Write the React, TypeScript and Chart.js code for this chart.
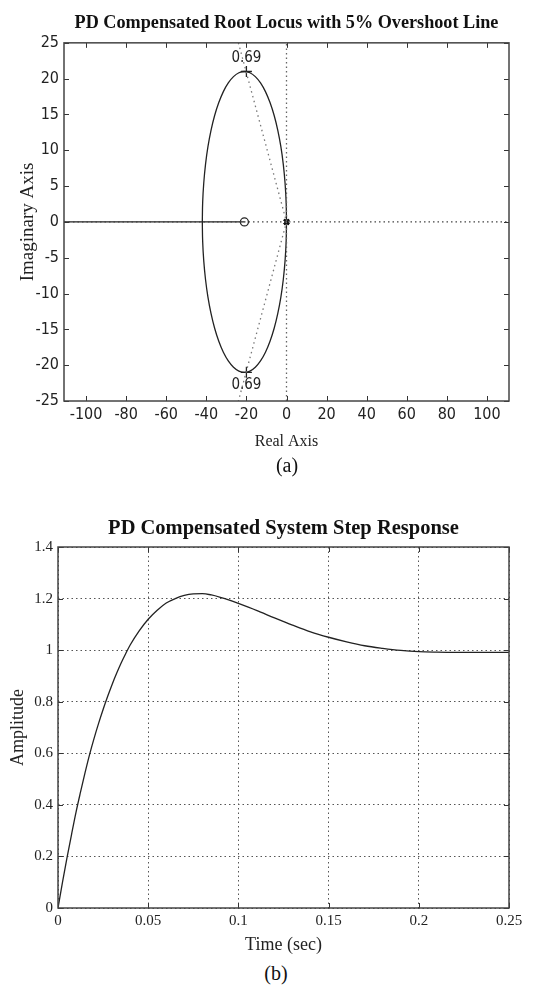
import React, { useEffect, useRef } from "react";
import { Chart, registerables } from "chart.js";

Chart.register(...registerables);

// ---------------- (a) Root locus data ----------------
const locusUpperX = [0, -0.18, -0.72, -1.6, -2.81, -4.34, -6.15, -8.22, -10.5, -12.96, -15.56, -18.26, -21, -23.74, -26.44, -29.04, -31.5, -33.78, -35.85, -37.66, -39.19, -40.4, -41.28, -41.82, -42];
const locusUpperY = [0, 2.74, 5.44, 8.04, 10.5, 12.78, 14.85, 16.66, 18.19, 19.4, 20.28, 20.82, 21, 20.82, 20.28, 19.4, 18.19, 16.66, 14.85, 12.78, 10.5, 8.04, 5.44, 2.74, 0];
const locusLowerX = [0, -0.18, -0.72, -1.6, -2.81, -4.34, -6.15, -8.22, -10.5, -12.96, -15.56, -18.26, -21, -23.74, -26.44, -29.04, -31.5, -33.78, -35.85, -37.66, -39.19, -40.4, -41.28, -41.82, -42];
const locusLowerY = [0, -2.74, -5.44, -8.04, -10.5, -12.78, -14.85, -16.66, -18.19, -19.4, -20.28, -20.82, -21, -20.82, -20.28, -19.4, -18.19, -16.66, -14.85, -12.78, -10.5, -8.04, -5.44, -2.74, 0];
const realLocusX = [-111, -21];
const realLocusY = [0, 0];
const zeroX = [-21];
const zeroY = [0];
const poleX = [0, 0];
const poleY = [0, 0];
const dampLineX = [-24, 0, -24];
const dampLineY = [25, 0, -25];
const dampPointX = [-20, -20];
const dampPointY = [21, -21];
const dampLabelText = ["0.69", "0.69"];
const dampLabelX = [-20, -20];
const dampLabelY = [22.8, -22.8];
const axisVertX = [0, 0];
const axisVertY = [-25, 25];
const axisHorzX = [-111, 111];
const axisHorzY = [0, 0];
const rlXRange = [-111, 111];
const rlYRange = [-25, 25];
const rlXTicks = [-100, -80, -60, -40, -20, 0, 20, 40, 60, 80, 100];
const rlYTicks = [-25, -20, -15, -10, -5, 0, 5, 10, 15, 20, 25];

// ---------------- (b) Step response data ----------------
const stepTime = [0, 0.0025, 0.005, 0.0075, 0.01, 0.0125, 0.015, 0.0175, 0.02, 0.0225, 0.025, 0.0275, 0.03, 0.0325, 0.035, 0.0375, 0.04, 0.045, 0.05, 0.055, 0.06, 0.065, 0.07, 0.075, 0.08, 0.085, 0.09, 0.095, 0.1, 0.11, 0.12, 0.13, 0.14, 0.15, 0.16, 0.17, 0.18, 0.19, 0.2, 0.21, 0.22, 0.23, 0.24, 0.25];
const stepAmp = [0, 0.1, 0.195, 0.285, 0.372, 0.45, 0.525, 0.595, 0.658, 0.716, 0.77, 0.82, 0.867, 0.91, 0.95, 0.986, 1.02, 1.075, 1.12, 1.155, 1.183, 1.2, 1.212, 1.218, 1.219, 1.214, 1.205, 1.194, 1.181, 1.154, 1.125, 1.097, 1.071, 1.05, 1.032, 1.017, 1.007, 0.999, 0.994, 0.992, 0.991, 0.991, 0.991, 0.991];
const stepXTicks = [0, 0.05, 0.1, 0.15, 0.2, 0.25];
const stepYTicks = [0, 0.2, 0.4, 0.6, 0.8, 1, 1.2, 1.4];
const stepXRange = [0, 0.25];
const stepYRange = [0, 1.4];

const INK = "#222";
const SERIF = "'Liberation Serif', 'Times New Roman', serif";
const NARROW = "'Liberation Sans Narrow', 'Arial Narrow', 'DejaVu Sans Condensed', 'Liberation Sans', sans-serif";

const pts = (xs: number[], ys: number[]) => xs.map((x, i) => ({ x, y: ys[i] }));

function framePlugin(labels: { text: string; x: number; y: number }[], labelFont: string) {
  return {
    id: "matlabFrame",
    afterDatasetsDraw(chart: any) {
      const { ctx, chartArea: a, scales } = chart;
      const tl = 5;
      ctx.save();
      ctx.strokeStyle = "#333";
      ctx.lineWidth = 1;
      ctx.beginPath();
      scales.x.ticks.forEach((t: any) => {
        const px = Math.round(scales.x.getPixelForValue(t.value)) + 0.5;
        ctx.moveTo(px, a.bottom);
        ctx.lineTo(px, a.bottom - tl);
        ctx.moveTo(px, a.top);
        ctx.lineTo(px, a.top + tl);
      });
      scales.y.ticks.forEach((t: any) => {
        const py = Math.round(scales.y.getPixelForValue(t.value)) + 0.5;
        ctx.moveTo(a.left, py);
        ctx.lineTo(a.left + tl, py);
        ctx.moveTo(a.right, py);
        ctx.lineTo(a.right - tl, py);
      });
      ctx.stroke();
      ctx.strokeStyle = "#444";
      ctx.lineWidth = 1.5;
      ctx.strokeRect(a.left, a.top, a.right - a.left, a.bottom - a.top);
      ctx.fillStyle = INK;
      ctx.font = labelFont;
      ctx.textAlign = "center";
      ctx.textBaseline = "middle";
      labels.forEach((l) => {
        ctx.fillText(l.text, scales.x.getPixelForValue(l.x), scales.y.getPixelForValue(l.y));
      });
      ctx.restore();
    },
  };
}

function RootLocus() {
  const ref = useRef<HTMLCanvasElement>(null);
  useEffect(() => {
    const line = (xs: number[], ys: number[], dash: number[] = [], color = INK, tension = 0.4) => ({
      data: pts(xs, ys),
      showLine: true,
      borderColor: color,
      borderWidth: 1.3,
      borderDash: dash,
      pointRadius: 0,
      tension,
      fill: false,
    });
    const labels = dampLabelText.map((text, i) => ({ text, x: dampLabelX[i], y: dampLabelY[i] }));
    const chart = new Chart(ref.current!, {
      type: "scatter",
      data: {
        datasets: [
          line(axisVertX, axisVertY, [1.5, 3], "#666", 0) as any,
          line(axisHorzX, axisHorzY, [1.5, 3], "#444", 0),
          line(dampLineX, dampLineY, [1.5, 3.5], "#777", 0),
          line(locusUpperX, locusUpperY),
          line(locusLowerX, locusLowerY),
          line(realLocusX, realLocusY, [], INK, 0),
          {
            data: pts(zeroX, zeroY),
            showLine: false,
            pointStyle: "circle",
            pointRadius: 4,
            pointBorderWidth: 1.3,
            pointBorderColor: INK,
            pointBackgroundColor: "rgba(255,255,255,1)",
          },
          {
            data: pts(poleX, poleY),
            showLine: false,
            pointStyle: "crossRot",
            pointRadius: 3.5,
            pointBorderWidth: 2.2,
            pointBorderColor: "#111",
          },
          {
            data: pts(dampPointX, dampPointY),
            showLine: false,
            pointStyle: "cross",
            pointRadius: 5.5,
            pointBorderWidth: 1.3,
            pointBorderColor: INK,
          },
        ],
      },
      options: {
        responsive: false,
        animation: false,
        events: [],
        layout: { padding: { left: 0, right: 35, top: 0, bottom: 0 } },
        plugins: {
          legend: { display: false },
          tooltip: { enabled: false },
          title: {
            display: true,
            fullSize: false,
            text: "PD Compensated Root Locus with 5% Overshoot Line",
            color: "#111",
            font: { family: SERIF, size: 18.2, weight: "bold", lineHeight: 1.2 },
            padding: { top: 12, bottom: 9 },
          },
        },
        scales: {
          x: {
            type: "linear",
            min: rlXRange[0],
            max: rlXRange[1],
            afterBuildTicks: (s: any) => {
              s.ticks = rlXTicks.map((v) => ({ value: v }));
            },
            afterFit: (s: any) => {
              s.height = 59;
            },
            grid: { display: false, drawTicks: false },
            border: { display: false },
            ticks: {
              color: "#222",
              padding: 4.5,
              maxRotation: 0,
              autoSkip: false,
              font: { family: NARROW, size: 16, lineHeight: 1.2 },
            },
            title: {
              display: true,
              text: "Real Axis",
              color: "#222",
              font: { family: SERIF, size: 16, lineHeight: 1.2 },
              padding: { top: 0, bottom: 8.4 },
            },
          },
          y: {
            type: "linear",
            min: rlYRange[0],
            max: rlYRange[1],
            afterBuildTicks: (s: any) => {
              s.ticks = rlYTicks.map((v) => ({ value: v }));
            },
            afterFit: (s: any) => {
              s.width = 64;
            },
            grid: { display: false, drawTicks: false },
            border: { display: false },
            ticks: {
              color: "#222",
              padding: 5,
              autoSkip: false,
              font: { family: NARROW, size: 16, lineHeight: 1.2 },
            },
            title: {
              display: true,
              text: "Imaginary Axis",
              color: "#222",
              font: { family: SERIF, size: 19, lineHeight: 1.2 },
              padding: { top: 16.5, bottom: 0 },
            },
          },
        },
      },
      plugins: [framePlugin(labels, `15px ${NARROW}`)],
    } as any);
    return () => chart.destroy();
  }, []);
  return (
    <canvas
      ref={ref}
      width={544}
      height={460}
      style={{ position: "absolute", left: 0, top: 0, width: 544, height: 460, display: "block" }}
    />
  );
}

function StepResponse() {
  const ref = useRef<HTMLCanvasElement>(null);
  useEffect(() => {
    const chart = new Chart(ref.current!, {
      type: "scatter",
      data: {
        datasets: [
          {
            data: pts(stepTime, stepAmp),
            showLine: true,
            borderColor: INK,
            borderWidth: 1.3,
            pointRadius: 0,
            cubicInterpolationMode: "monotone",
            fill: false,
          },
        ],
      },
      options: {
        responsive: false,
        animation: false,
        events: [],
        layout: { padding: { left: 0, right: 35, top: 0, bottom: 0 } },
        plugins: {
          legend: { display: false },
          tooltip: { enabled: false },
          title: {
            display: true,
            fullSize: false,
            text: "PD Compensated System Step Response",
            color: "#111",
            font: { family: SERIF, size: 20.5, weight: "bold", lineHeight: 1.2 },
            padding: { top: 26, bottom: 6.4 },
          },
        },
        scales: {
          x: {
            type: "linear",
            min: stepXRange[0],
            max: stepXRange[1],
            afterBuildTicks: (s: any) => {
              s.ticks = stepXTicks.map((v) => ({ value: v }));
            },
            afterFit: (s: any) => {
              s.height = 52;
            },
            grid: { display: true, drawTicks: false, color: "#555", lineWidth: 1 },
            border: { display: false, dash: [1.5, 3] },
            ticks: {
              color: "#222",
              padding: 3.7,
              maxRotation: 0,
              autoSkip: false,
              font: { family: SERIF, size: 15, lineHeight: 1.2 },
              callback: (v: any) => String(v),
            },
            title: {
              display: true,
              text: "Time (sec)",
              color: "#222",
              font: { family: SERIF, size: 18, lineHeight: 1.2 },
              padding: { top: 0, bottom: 4.2 },
            },
          },
          y: {
            type: "linear",
            min: stepYRange[0],
            max: stepYRange[1],
            afterBuildTicks: (s: any) => {
              s.ticks = stepYTicks.map((v) => ({ value: v }));
            },
            afterFit: (s: any) => {
              s.width = 58;
            },
            grid: { display: true, drawTicks: false, color: "#555", lineWidth: 1 },
            border: { display: false, dash: [1.5, 3] },
            ticks: {
              color: "#222",
              padding: 5,
              autoSkip: false,
              font: { family: SERIF, size: 15, lineHeight: 1.2 },
              callback: (v: any) => String(v),
            },
            title: {
              display: true,
              text: "Amplitude",
              color: "#222",
              font: { family: SERIF, size: 18, lineHeight: 1.2 },
              padding: { top: 7.7, bottom: 0 },
            },
          },
        },
      },
      plugins: [framePlugin([], `15px ${SERIF}`)],
    } as any);
    return () => chart.destroy();
  }, []);
  return (
    <canvas
      ref={ref}
      width={544}
      height={470}
      style={{ position: "absolute", left: 0, top: 490, width: 544, height: 470, display: "block" }}
    />
  );
}

const captionStyle = (cx: number, cy: number): React.CSSProperties => ({
  position: "absolute",
  left: cx - 50,
  top: cy - 12,
  width: 100,
  height: 24,
  lineHeight: "24px",
  textAlign: "center",
  fontFamily: SERIF,
  fontSize: 20,
  color: "#111",
});

export default function App() {
  return (
    <div
      style={{
        position: "absolute",
        left: 0,
        top: 0,
        width: 544,
        height: 988,
        background: "#fff",
        overflow: "hidden",
      }}
    >
      <RootLocus />
      <div style={captionStyle(287, 465)}>(a)</div>
      <StepResponse />
      <div style={captionStyle(276, 973)}>(b)</div>
    </div>
  );
}
